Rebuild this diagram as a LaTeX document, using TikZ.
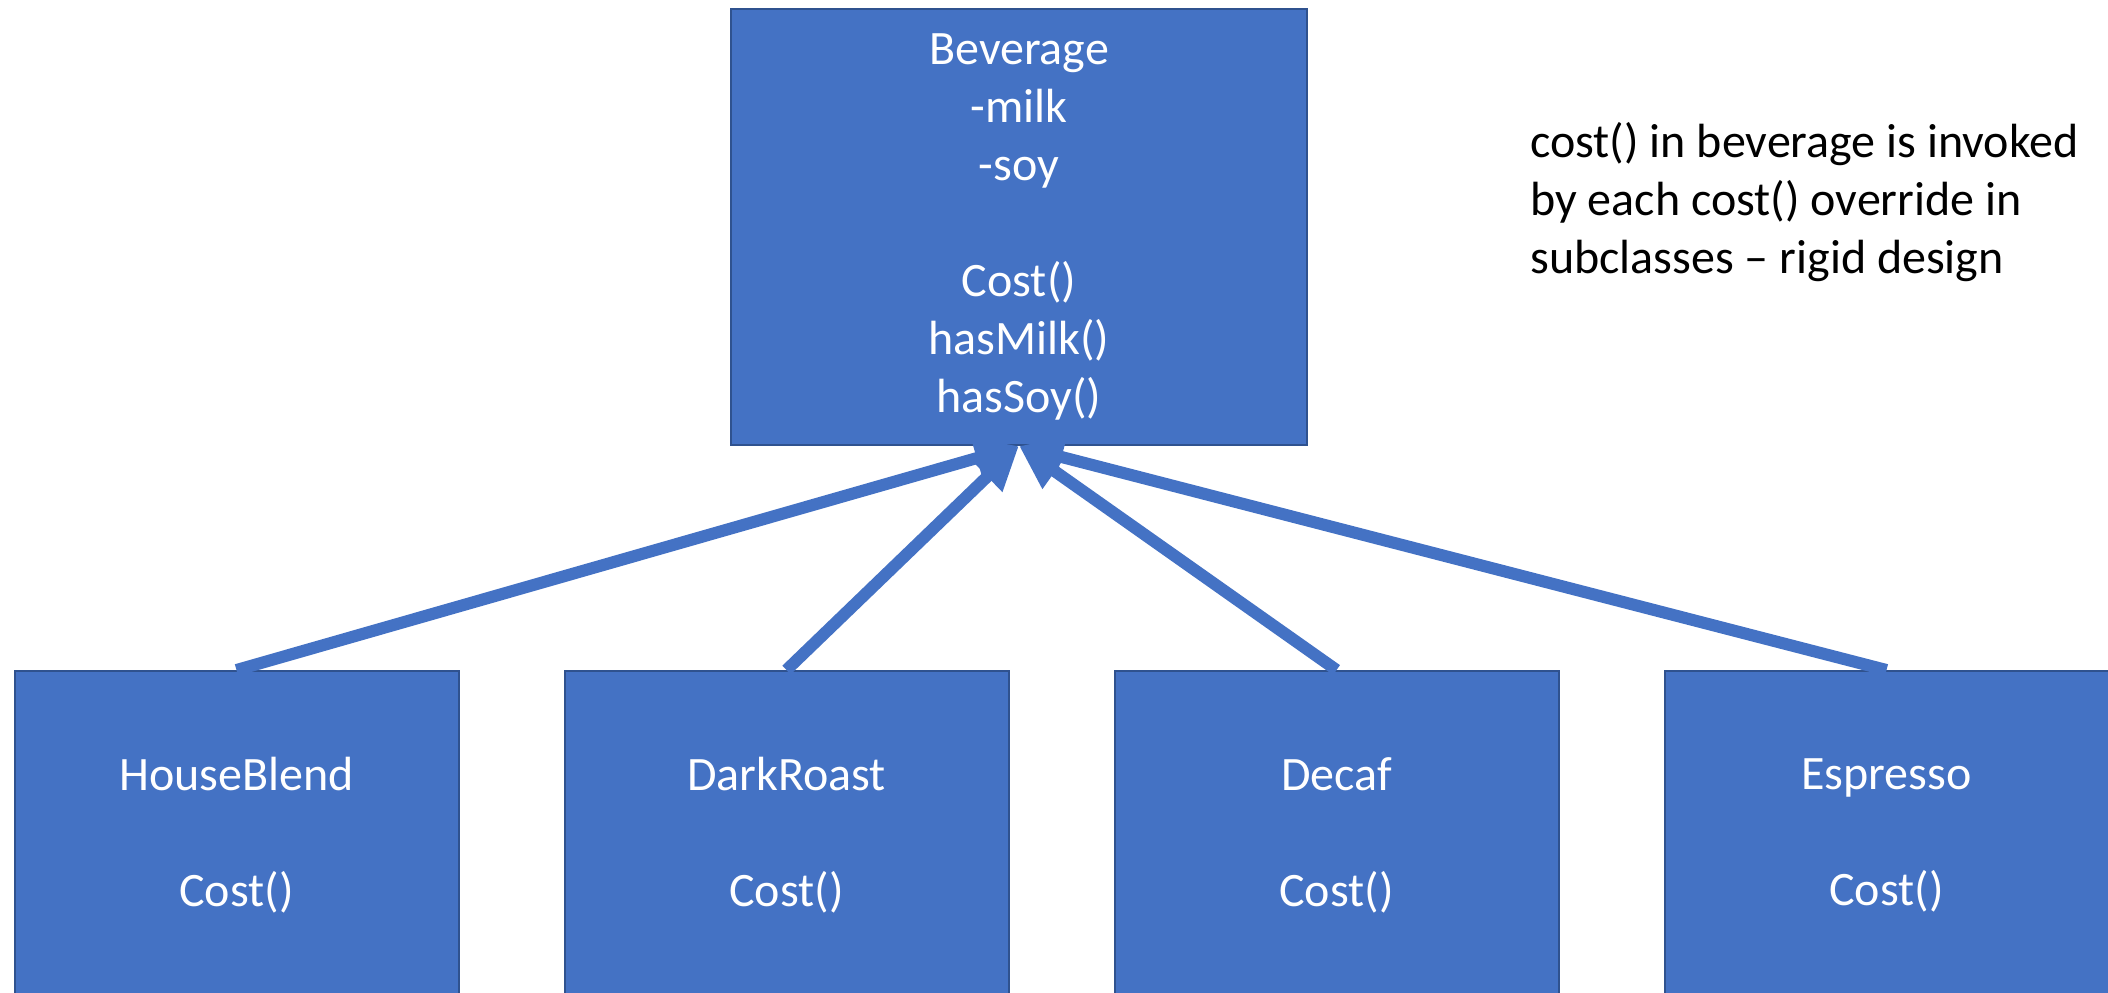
\documentclass[tikz,border=0pt]{standalone}
\usepackage{fontspec}
\setmainfont{Carlito}
\usetikzlibrary{positioning,arrows.meta}
\definecolor{boxblue}{HTML}{4472C4}
\definecolor{boxline}{HTML}{2F528F}

\begin{document}
\begin{tikzpicture}[
      x=0.5pt, y=-0.5pt,
      every node/.style={font=\fontsize{24}{29}\selectfont},
      cls/.style={
        draw=boxline, line width=1pt, fill=boxblue, text=white,
        align=center, inner sep=0pt
      },
      sub/.style={cls, minimum width=222pt, minimum height=164pt},
      inherit/.style={draw=boxblue, line width=6pt,
        -{Triangle[length=22pt,width=20pt]}}
      ]

      \useasboundingbox (0,0) rectangle (2108,992);
      \clip (0,0) rectangle (2108,992);

      \node[cls, minimum width=288pt, minimum height=218pt] at (1019,227) (c0)
        {Beverage\\-milk\\-soy\\[29pt]Cost()\\hasMilk()\\hasSoy()};
      \node[sub] at (236.5,835)        (c1) {HouseBlend\\[29pt]Cost()};
      \node[sub, right=52pt of c1]     (c2) {DarkRoast\\[29pt]Cost()};
      \node[sub, right=52pt of c2]     (c3) {Decaf\\[29pt]Cost()};
      \node[sub, right=52pt of c3]     (c4) {Espresso\\[29pt]Cost()};

      \node[anchor=north west, align=left, inner sep=0pt] at (1530,122) (note)
        {cost() in beverage is invoked\\by each cost() override in\\subclasses – rigid design};

  % Connect the nodes
  \foreach \i in {1,...,4}
    \draw[inherit] (c\i.north) -- (c0.south);

\end{tikzpicture}
\end{document}
